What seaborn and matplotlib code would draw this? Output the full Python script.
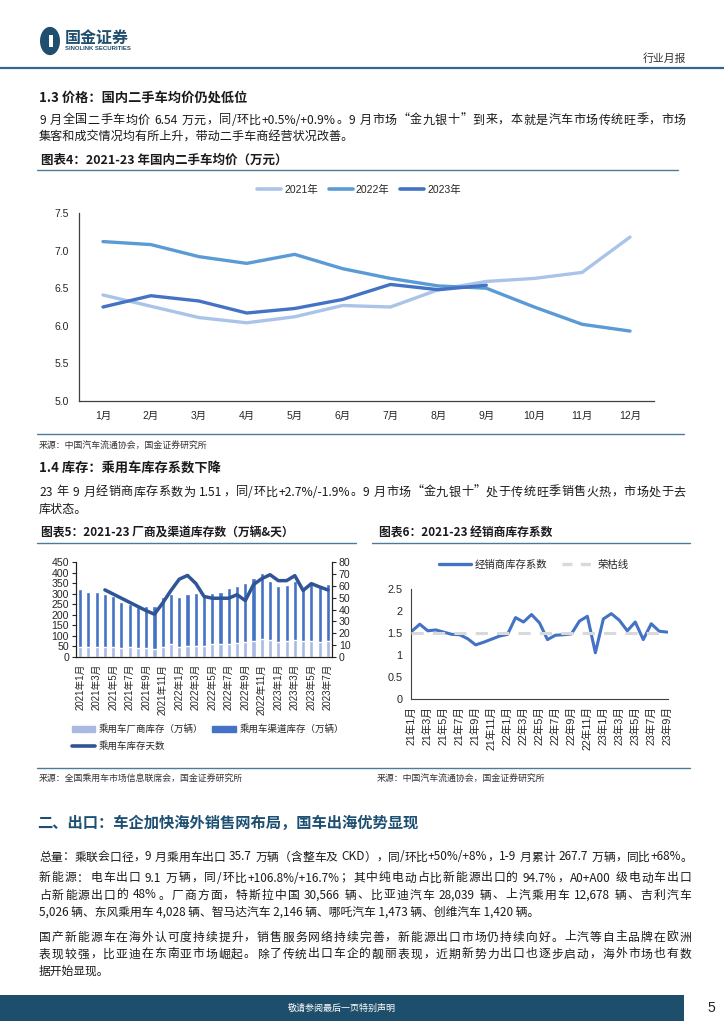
import numpy as np
import pandas as pd
import matplotlib
matplotlib.use("Agg")
import matplotlib.pyplot as plt
import seaborn as sns
from matplotlib.patches import Rectangle, Circle, Patch
from matplotlib.lines import Line2D

# ---------------- data ----------------
months = ["1月", "2月", "3月", "4月", "5月", "6月", "7月", "8月", "9月", "10月", "11月", "12月"]
price_2021 = [6.41, 6.26, 6.11, 6.04, 6.12, 6.27, 6.25, 6.48, 6.59, 6.63, 6.71, 7.18]
price_2022 = [7.12, 7.08, 6.92, 6.83, 6.95, 6.76, 6.63, 6.53, 6.50, 6.25, 6.02, 5.93]
price_2023 = [6.25, 6.40, 6.33, 6.17, 6.23, 6.35, 6.55, 6.48, 6.54]

inv_labels = ["2021年1月", "2021年2月", "2021年3月", "2021年4月", "2021年5月", "2021年6月",
              "2021年7月", "2021年8月", "2021年9月", "2021年10月", "2021年11月", "2021年12月",
              "2022年1月", "2022年2月", "2022年3月", "2022年4月", "2022年5月", "2022年6月",
              "2022年7月", "2022年8月", "2022年9月", "2022年10月", "2022年11月", "2022年12月",
              "2023年1月", "2023年2月", "2023年3月", "2023年4月", "2023年5月", "2023年6月",
              "2023年7月"]
factory_stock = [48, 48, 47, 47, 47, 45, 47, 44, 44, 38, 48, 60, 48, 52, 50, 52,
                 63, 63, 63, 67, 70, 77, 85, 80, 72, 76, 80, 76, 77, 73, 74]
channel_stock = [274, 260, 261, 253, 240, 217, 205, 191, 198, 204, 234, 240, 238, 247, 252, 243,
                 240, 245, 263, 270, 282, 296, 311, 281, 262, 266, 281, 256, 269, 269, 271]
stock_days = [np.nan, np.nan, np.nan, 56.5, 53, 49.5, 46, 42.5, 39, 36, 45.5, 56,
              65.5, 68.7, 62, 51, 49.5, 49.5, 49.5, 52.5, 47.5, 61, 66, 69.3,
              64.3, 64.3, 68.5, 56, 61.8, 59, 56.5]

dealer_labels = ["21年1月", "21年2月", "21年3月", "21年4月", "21年5月", "21年6月", "21年7月",
                 "21年8月", "21年9月", "21年10月", "21年11月", "21年12月",
                 "22年1月", "22年2月", "22年3月", "22年4月", "22年5月", "22年6月", "22年7月",
                 "22年8月", "22年9月", "22年10月", "22年11月", "22年12月",
                 "23年1月", "23年2月", "23年3月", "23年4月", "23年5月", "23年6月", "23年7月",
                 "23年8月", "23年9月"]
dealer_index = [1.54, 1.70, 1.55, 1.57, 1.52, 1.47, 1.46, 1.37, 1.23, 1.29, 1.36, 1.43,
                1.47, 1.85, 1.75, 1.92, 1.73, 1.35, 1.45, 1.46, 1.48, 1.77, 1.88, 1.05,
                1.82, 1.94, 1.79, 1.55, 1.75, 1.35, 1.71, 1.54, 1.52]
warning_level = 1.5

# ---------------- styling ----------------
sns.set_style("white")
CJK = ["Noto Sans CJK SC", "DejaVu Sans"]
NUM = ["Liberation Sans", "Noto Sans CJK SC", "DejaVu Sans"]
plt.rcParams["font.family"] = CJK
plt.rcParams["axes.unicode_minus"] = False

W, H = 724, 1024
fig = plt.figure(figsize=(W / 100, H / 100), dpi=100)
fig.patch.set_facecolor("white")
renderer = fig.canvas.get_renderer()

def fx(x):
    return x / W

def fy(y):
    return 1 - y / H

def rect(l, t, r, b):
    return [fx(l), fy(b), (r - l) / W, (b - t) / H]

def T(x, y, s, size=9, weight="normal", color="#1a1a1a", ha="left", va="center",
      family=None, style="normal"):
    return fig.text(fx(x), fy(y), s, fontsize=size, fontweight=weight, color=color, ha=ha,
                    va=va, family=family if family else CJK, style=style)

def hline(x0, x1, y, color, lw):
    fig.add_artist(Line2D([fx(x0), fx(x1)], [fy(y), fy(y)], color=color, lw=lw,
                          transform=fig.transFigure))

def tokenize(s):
    # returns list of (token, space_before)
    toks, buf, sp = [], "", False
    for ch in s:
        if ch == " ":
            if buf:
                toks.append((buf, sp))
                buf, sp = "", False
            sp = True
        elif ord(ch) < 128:
            buf += ch
        else:
            if buf:
                toks.append((buf, sp))
                buf, sp = "", False
            toks.append((ch, sp))
            sp = False
    if buf:
        toks.append((buf, sp))
    return toks

def justify(x0, x1, y, s, size=8.7, color="#1a1a1a"):
    toks = tokenize(s)
    em = size * 100 / 72
    items = []
    for tk, sp in toks:
        t = T(0, -50, tk, size=size, color=color)
        w = t.get_window_extent(renderer).width
        t.remove()
        items.append((tk, w, em * 0.3 if sp else 0.0))
    total = sum(w + g for _, w, g in items)
    gaps = max(len(items) - 1, 1)
    extra = max((x1 - x0) - total, 0) / gaps
    x = x0
    for i, (tk, w, g) in enumerate(items):
        if i > 0:
            x += g
        T(x, y, tk, size=size, color=color)
        x += w + extra

TEAL = "#1f4e6e"
TITLE_LINE = "#4b7b96"

# ---------------- header ----------------
fig.add_artist(Circle((fx(50), fy(41)), 10 / W, transform=fig.transFigure,
                      color=TEAL, ec="none"))
fig.add_artist(Rectangle((fx(49), fy(47)), 4 / W, 12 / H, transform=fig.transFigure,
                         color="white", ec="none"))
T(65, 38, "国金证券", size=11.5, weight="bold", color=TEAL)
T(65, 48.5, "SINOLINK SECURITIES", size=4.3, weight="bold", color=TEAL, family=NUM)
T(686, 59, "行业月报", size=7.8, color="#333333", ha="right")
hline(0, W, 68, "#2f6a8c", 1.6)

# ---------------- section 1.3 ----------------
T(39, 98, "1.3 价格：国内二手车均价仍处低位", size=9.5, weight="bold")
justify(39, 686, 120, "9 月全国二手车均价 6.54 万元，同/环比+0.5%/+0.9%。9 月市场“金九银十”到来，本就是汽车市场传统旺季，市场")
T(39, 137, "集客和成交情况均有所上升，带动二手车商经营状况改善。", size=8.7)
T(41, 160, "图表4：2021-23 年国内二手车均价（万元）", size=9, weight="bold", style="italic")
hline(37, 678, 169.5, TITLE_LINE, 1.0)

# chart 4
c21, c22, c23 = "#a9c4e8", "#5b9bd5", "#4472c4"
ax4 = fig.add_axes(rect(79, 213, 654, 401))
x12 = np.arange(len(months))
sns.lineplot(x=x12, y=price_2021, ax=ax4, color=c21, lw=2.4, legend=False)
sns.lineplot(x=x12, y=price_2022, ax=ax4, color=c22, lw=2.4, legend=False)
sns.lineplot(x=np.arange(len(price_2023)), y=price_2023, ax=ax4, color=c23, lw=2.4, legend=False)
ax4.set_xlim(-0.5, 11.5)
ax4.set_ylim(5.0, 7.5)
ax4.set_yticks([5.0, 5.5, 6.0, 6.5, 7.0, 7.5])
ax4.set_yticklabels(["5.0", "5.5", "6.0", "6.5", "7.0", "7.5"])
ax4.set_xticks(x12)
ax4.set_xticklabels(months)
for s in ["top", "right"]:
    ax4.spines[s].set_visible(False)
for s in ["left", "bottom"]:
    ax4.spines[s].set_color("#404040")
    ax4.spines[s].set_linewidth(0.9)
ax4.tick_params(axis="y", direction="out", length=3, width=0.8, color="#404040",
                labelsize=7.5, pad=4)
ax4.tick_params(axis="x", length=0, labelsize=7.5, pad=7)
for lab in ax4.get_xticklabels() + ax4.get_yticklabels():
    lab.set_family(NUM)
ax4.set_xlabel("")
ax4.set_ylabel("")
h4 = [Line2D([], [], color=c, lw=2.6) for c in (c21, c22, c23)]
fig.legend(h4, ["2021年", "2022年", "2023年"], loc="center", bbox_to_anchor=(fx(359), fy(190)),
           ncol=3, frameon=False, handlelength=2.3, handletextpad=0.3, columnspacing=1.0,
           prop={"family": NUM, "size": 7.5})

hline(37, 684, 434, TITLE_LINE, 1.0)
T(39, 446, "来源：中国汽车流通协会，国金证券研究所", size=6.4, color="#333333")

# ---------------- section 1.4 ----------------
T(39, 468, "1.4 库存：乘用车库存系数下降", size=9.5, weight="bold")
justify(39, 686, 492, "23 年 9 月经销商库存系数为 1.51，同/环比+2.7%/-1.9%。9 月市场“金九银十”处于传统旺季销售火热，市场处于去")
T(39, 509, "库状态。", size=8.7)

T(41, 533, "图表5：2021-23 厂商及渠道库存数（万辆&天）", size=8.5, weight="bold", style="italic")
T(379, 533, "图表6：2021-23 经销商库存系数", size=8.5, weight="bold", style="italic")
hline(37, 356, 542.5, TITLE_LINE, 1.0)
hline(372, 690, 542.5, TITLE_LINE, 1.0)

# chart 5
light_bar, dark_bar, day_line = "#aab9e2", "#4472c4", "#2f5597"
ax5 = fig.add_axes(rect(76, 562, 332, 657))
df5 = pd.DataFrame({"month": inv_labels, "factory": factory_stock, "channel": channel_stock})
df5["total"] = df5["factory"] + df5["channel"]
sns.barplot(data=df5, x="month", y="total", ax=ax5, color=dark_bar, width=0.5,
            saturation=1, order=inv_labels)
sns.barplot(data=df5, x="month", y="factory", ax=ax5, color=light_bar, width=0.5,
            saturation=1, order=inv_labels)
ax5.set_xlim(-0.5, len(inv_labels) - 0.5)
ax5.set_ylim(0, 450)
ax5.set_yticks(np.arange(0, 451, 50))
ax5.set_xticks(np.arange(0, len(inv_labels), 2))
ax5.set_xticklabels(inv_labels[::2], rotation=90)
ax5.set_xlabel("")
ax5.set_ylabel("")
ax5b = ax5.twinx()
sns.lineplot(x=np.arange(len(stock_days)), y=stock_days, ax=ax5b, color=day_line, lw=2.5)
ax5b.set_ylim(0, 80)
ax5b.set_yticks(np.arange(0, 81, 10))
ax5b.set_ylabel("")
for a in (ax5, ax5b):
    a.spines["top"].set_visible(False)
    for s in ["left", "right", "bottom"]:
        a.spines[s].set_color("#222222")
        a.spines[s].set_linewidth(0.8)
    a.tick_params(axis="y", direction="out", length=3, width=0.8, labelsize=7.6, pad=2)
ax5.tick_params(axis="x", direction="out", length=3, width=0.6, labelsize=7.0, pad=2)
for lab in ax5.get_xticklabels() + ax5.get_yticklabels() + ax5b.get_yticklabels():
    lab.set_family(NUM)
h5 = [Patch(color=light_bar), Line2D([], [], color=day_line, lw=2.6), Patch(color=dark_bar)]
fig.legend(h5, ["乘用车厂商库存（万辆）", "乘用车库存天数", "乘用车渠道库存（万辆）"],
           loc="upper left", bbox_to_anchor=(fx(63), fy(716)), ncol=2, frameon=False,
           handlelength=2.5, handleheight=0.65, handletextpad=0.4, columnspacing=0.9,
           labelspacing=0.75, prop={"family": CJK, "size": 6.8})

# chart 6
ax6 = fig.add_axes(rect(411, 589, 668, 699))
x33 = np.arange(len(dealer_labels))
sns.lineplot(x=x33, y=dealer_index, ax=ax6, color="#4472c4", lw=2.2, zorder=2)
ax6.axhline(warning_level, color="#d9d9d9", lw=2.2, ls=(0, (4, 3)), zorder=3)
ax6.set_xlim(-0.1, len(dealer_labels) - 0.9)
ax6.set_ylim(0, 2.5)
ax6.set_yticks([0, 0.5, 1, 1.5, 2, 2.5])
ax6.set_yticklabels(["0", "0.5", "1", "1.5", "2", "2.5"])
ax6.set_xticks(np.arange(0, len(dealer_labels), 2))
ax6.set_xticklabels(dealer_labels[::2], rotation=90)
ax6.set_xlabel("")
ax6.set_ylabel("")
for s in ["top", "right"]:
    ax6.spines[s].set_visible(False)
for s in ["left", "bottom"]:
    ax6.spines[s].set_color("#404040")
    ax6.spines[s].set_linewidth(0.8)
ax6.tick_params(axis="y", direction="out", length=3, width=0.8, labelsize=7.8, pad=3)
ax6.tick_params(axis="x", direction="out", length=3, width=0.6, labelsize=7.7, pad=2)
for lab in ax6.get_xticklabels() + ax6.get_yticklabels():
    lab.set_family(NUM)
h6 = [Line2D([], [], color="#4472c4", lw=2.4),
      Line2D([], [], color="#d9d9d9", lw=2.4, ls=(0, (3, 2.5)))]
fig.legend(h6, ["经销商库存系数", "荣枯线"], loc="center", bbox_to_anchor=(fx(534), fy(565)),
           ncol=2, frameon=False, handlelength=3.0, handletextpad=0.4, columnspacing=1.4,
           prop={"family": CJK, "size": 7.5})

hline(37, 690, 768, TITLE_LINE, 1.0)
T(39, 779, "来源：全国乘用车市场信息联席会，国金证券研究所", size=6.4, color="#333333")
T(377, 779, "来源：中国汽车流通协会，国金证券研究所", size=6.4, color="#333333")

# ---------------- section 2 ----------------
T(37, 823, "二、出口：车企加快海外销售网布局，国车出海优势显现", size=11, weight="bold", color="#1d4f72")
justify(39, 691, 857, "总量：乘联会口径，9 月乘用车出口 35.7 万辆（含整车及 CKD），同/环比+50%/+8%，1-9 月累计 267.7 万辆，同比+68%。", size=8.5)
justify(39, 691, 878, "新能源：电车出口 9.1 万辆，同/环比+106.8%/+16.7%；其中纯电动占比新能源出口的 94.7%，A0+A00 级电动车出口", size=8.5)
justify(39, 691, 895, "占新能源出口的 48%。厂商方面，特斯拉中国 30,566 辆、比亚迪汽车 28,039 辆、上汽乘用车 12,678 辆、吉利汽车", size=8.5)
T(39, 912, "5,026 辆、东风乘用车 4,028 辆、智马达汽车 2,146 辆、哪吒汽车 1,473 辆、创维汽车 1,420 辆。", size=8.5)
justify(39, 691, 937, "国产新能源车在海外认可度持续提升，销售服务网络持续完善，新能源出口市场仍持续向好。上汽等自主品牌在欧洲", size=8.5)
justify(39, 691, 954, "表现较强，比亚迪在东南亚市场崛起。除了传统出口车企的靓丽表现，近期新势力出口也逐步启动，海外市场也有数", size=8.5)
T(39, 971, "据开始显现。", size=8.5)

# ---------------- footer ----------------
fig.add_artist(Rectangle((0, fy(1021)), fx(684), 26 / H, transform=fig.transFigure,
                         color="#1d4e6b", ec="none"))
T(342, 1008, "敬请参阅最后一页特别声明", size=6.5, color="white", ha="center")
T(711, 1008, "5", size=10, color="#222222", ha="center", family=NUM)

fig.savefig("out.png", dpi=100, facecolor="white")
